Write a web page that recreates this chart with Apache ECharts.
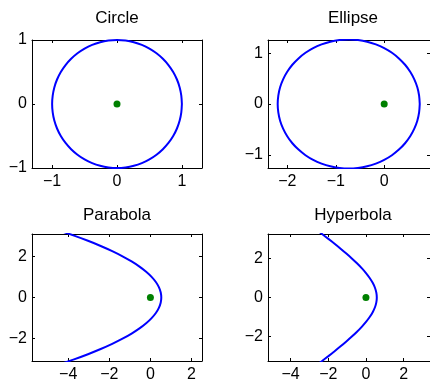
<!DOCTYPE html>
<html>
<head>
<meta charset="utf-8">
<script src="https://cdn.jsdelivr.net/npm/echarts@6/dist/echarts.min.js"></script>
<style>html,body{margin:0;padding:0;background:#fff}#c{width:430px;height:383px}</style>
</head>
<body>
<div id="c"></div>
<script>
// Titles
const titles = ['Circle', 'Ellipse', 'Parabola', 'Hyperbola'];

// Circle (focus at origin, radius 1)
const circleX = [1, 0.991, 0.966, 0.924, 0.866, 0.793, 0.707, 0.609, 0.5, 0.383, 0.259, 0.131, 0, -0.131, -0.259, -0.383, -0.5, -0.609, -0.707, -0.793, -0.866, -0.924, -0.966, -0.991, -1, -0.991, -0.966, -0.924, -0.866, -0.793, -0.707, -0.609, -0.5, -0.383, -0.259, -0.131, 0, 0.131, 0.259, 0.383, 0.5, 0.609, 0.707, 0.793, 0.866, 0.924, 0.966, 0.991, 1];
const circleY = [0, 0.131, 0.259, 0.383, 0.5, 0.609, 0.707, 0.793, 0.866, 0.924, 0.966, 0.991, 1, 0.991, 0.966, 0.924, 0.866, 0.793, 0.707, 0.609, 0.5, 0.383, 0.259, 0.131, 0, -0.131, -0.259, -0.383, -0.5, -0.609, -0.707, -0.793, -0.866, -0.924, -0.966, -0.991, -1, -0.991, -0.966, -0.924, -0.866, -0.793, -0.707, -0.609, -0.5, -0.383, -0.259, -0.131, 0];

// Ellipse
const ellipseX = [0.734, 0.721, 0.684, 0.622, 0.537, 0.431, 0.304, 0.160, 0.000, -0.172, -0.353, -0.542, -0.733, -0.924, -1.113, -1.294, -1.467, -1.626, -1.770, -1.897, -2.003, -2.088, -2.150, -2.187, -2.200, -2.187, -2.150, -2.088, -2.003, -1.897, -1.770, -1.626, -1.467, -1.294, -1.113, -0.924, -0.733, -0.542, -0.353, -0.172, 0.000, 0.160, 0.304, 0.431, 0.537, 0.622, 0.684, 0.721, 0.734];
const ellipseY = [0, 0.166, 0.329, 0.486, 0.635, 0.773, 0.898, 1.008, 1.100, 1.173, 1.227, 1.259, 1.27, 1.259, 1.227, 1.173, 1.100, 1.008, 0.898, 0.773, 0.635, 0.486, 0.329, 0.166, 0, -0.166, -0.329, -0.486, -0.635, -0.773, -0.898, -1.008, -1.100, -1.173, -1.227, -1.259, -1.27, -1.259, -1.227, -1.173, -1.100, -1.008, -0.898, -0.773, -0.635, -0.486, -0.329, -0.166, 0];

// Parabola
const parabolaX = [-5.248, -4.452, -3.715, -3.037, -2.418, -1.858, -1.357, -0.915, -0.531, -0.207, 0.058, 0.265, 0.412, 0.500, 0.530, 0.500, 0.412, 0.265, 0.058, -0.207, -0.531, -0.915, -1.357, -1.858, -2.418, -3.037, -3.715, -4.452, -5.248];
const parabolaY = [-3.5, -3.25, -3, -2.75, -2.5, -2.25, -2, -1.75, -1.5, -1.25, -1, -0.75, -0.5, -0.25, 0, 0.25, 0.5, 0.75, 1, 1.25, 1.5, 1.75, 2, 2.25, 2.5, 2.75, 3, 3.25, 3.5];

// Hyperbola
const hyperbolaX = [-2.674, -2.330, -1.993, -1.665, -1.347, -1.041, -0.750, -0.476, -0.224, 0.002, 0.198, 0.358, 0.478, 0.551, 0.576, 0.551, 0.478, 0.358, 0.198, 0.002, -0.224, -0.476, -0.750, -1.041, -1.347, -1.665, -1.993, -2.330, -2.674];
const hyperbolaY = [-3.5, -3.25, -3, -2.75, -2.5, -2.25, -2, -1.75, -1.5, -1.25, -1, -0.75, -0.5, -0.25, 0, 0.25, 0.5, 0.75, 1, 1.25, 1.5, 1.75, 2, 2.25, 2.5, 2.75, 3, 3.25, 3.5];

// Focus point
const focus = [0, 0];

// Axis ranges and tick labels
const xRanges = [[-1.31, 1.31], [-2.40, 0.946], [-5.76, 2.51], [-5.2, 3.4]];
const yRanges = [[-1, 1], [-1.26, 1.26], [-3.08, 3.08], [-3.25, 3.25]];
const xTicks = [[-1, 0, 1], [-2, -1, 0], [-4, -2, 0, 2], [-4, -2, 0, 2]];
const yTicks = [[-1, 0, 1], [-1, 0, 1], [-2, 0, 2], [-2, 0, 2]];

const curvesX = [circleX, ellipseX, parabolaX, hyperbolaX];
const curvesY = [circleY, ellipseY, parabolaY, hyperbolaY];

const FONT = 'Liberation Sans, Arial, Helvetica, sans-serif';
const gridPos = [
  {left: 32, top: 40, width: 170, height: 128},
  {left: 268, top: 40, width: 170, height: 128},
  {left: 32, top: 234, width: 170, height: 128},
  {left: 268, top: 234, width: 170, height: 128}
];
const titlePos = [[117, 18], [353, 18], [117, 215], [353, 215]];

const fmt = v => String(v).replace('-', '\u2212');

const grid = [], xAxis = [], yAxis = [], series = [], graphic = [];
for (let i = 0; i < 4; i++) {
  grid.push(Object.assign({containLabel: false}, gridPos[i]));
  const lineStyle = {color: '#000', width: 1};
  xAxis.push({
    type: 'value', gridIndex: i, position: 'bottom', min: xRanges[i][0], max: xRanges[i][1],
    splitLine: {show: false},
    axisLine: {show: true, onZero: false, lineStyle},
    axisTick: {show: true, inside: true, length: 3, customValues: xTicks[i], lineStyle},
    axisLabel: {show: true, customValues: xTicks[i], formatter: fmt, color: '#000', fontSize: 16, fontFamily: FONT, margin: 6}
  });
  yAxis.push({
    type: 'value', gridIndex: i, position: 'left', min: yRanges[i][0], max: yRanges[i][1],
    splitLine: {show: false},
    axisLine: {show: true, onZero: false, lineStyle},
    axisTick: {show: true, inside: true, length: 3, customValues: yTicks[i], lineStyle},
    axisLabel: {show: true, customValues: yTicks[i], formatter: fmt, color: '#000', fontSize: 16, fontFamily: FONT, margin: 5}
  });
  xAxis.push({
    type: 'value', gridIndex: i, position: 'top', min: xRanges[i][0], max: xRanges[i][1],
    splitLine: {show: false},
    axisLine: {show: true, onZero: false, lineStyle},
    axisTick: {show: true, inside: true, length: 3, customValues: xTicks[i], lineStyle},
    axisLabel: {show: false}
  });
  yAxis.push({
    type: 'value', gridIndex: i, position: 'right', min: yRanges[i][0], max: yRanges[i][1],
    splitLine: {show: false},
    axisLine: {show: true, onZero: false, lineStyle},
    axisTick: {show: true, inside: true, length: 3, customValues: yTicks[i], lineStyle},
    axisLabel: {show: false}
  });
  const data = curvesX[i].map((x, k) => [x, curvesY[i][k]]);
  series.push({
    type: 'line', xAxisIndex: 2 * i, yAxisIndex: 2 * i, data,
    smooth: 0.3, showSymbol: false, symbol: 'none', clip: true,
    lineStyle: {color: '#0000ff', width: 2}, silent: true, animation: false
  });
  series.push({
    type: 'scatter', xAxisIndex: 2 * i, yAxisIndex: 2 * i, data: [focus],
    symbolSize: 7, itemStyle: {color: '#008000', opacity: 1}, silent: true, animation: false
  });
  graphic.push({
    type: 'text', x: titlePos[i][0], y: titlePos[i][1],
    style: {text: titles[i], fill: '#000', font: '17px ' + FONT, textAlign: 'center', textVerticalAlign: 'middle'}
  });
}

const chart = echarts.init(document.getElementById('c'), null, {renderer: 'canvas'});
chart.setOption({animation: false, grid, xAxis, yAxis, series, graphic});
</script>
</body>
</html>
